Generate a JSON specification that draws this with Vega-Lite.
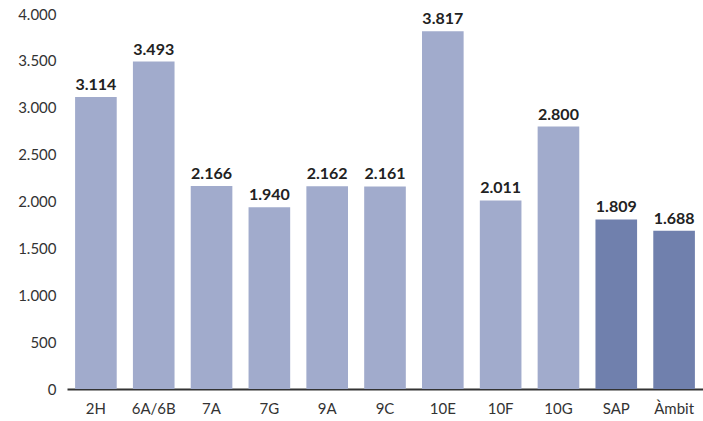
{
  "$schema": "https://vega.github.io/schema/vega-lite/v6.json",
  "width": 636,
  "height": 375,
  "autosize": {"type": "none"},
  "padding": {"left": 67, "top": 14, "right": 0, "bottom": 32},
  "config": {
    "locale": {"number": {"decimal": ",", "thousands": ".", "grouping": [3], "currency": ["", " €"]}},
    "view": {"stroke": null},
    "font": "Lato"
  },
  "data": {
    "values": [
      {"cat": "2H", "valor": 3114, "grup": "a"},
      {"cat": "6A/6B", "valor": 3493, "grup": "a"},
      {"cat": "7A", "valor": 2166, "grup": "a"},
      {"cat": "7G", "valor": 1940, "grup": "a"},
      {"cat": "9A", "valor": 2162, "grup": "a"},
      {"cat": "9C", "valor": 2161, "grup": "a"},
      {"cat": "10E", "valor": 3817, "grup": "a"},
      {"cat": "10F", "valor": 2011, "grup": "a"},
      {"cat": "10G", "valor": 2800, "grup": "a"},
      {"cat": "SAP", "valor": 1809, "grup": "b"},
      {"cat": "Àmbit", "valor": 1688, "grup": "b"}
    ]
  },
  "encoding": {
    "x": {
      "field": "cat",
      "type": "nominal",
      "sort": null,
      "scale": {"paddingInner": 0.28, "paddingOuter": 0.14},
      "axis": {
        "title": null,
        "labelAngle": 0,
        "labelFontSize": 15,
        "labelColor": "#333333",
        "labelPadding": 12,
        "ticks": false,
        "domainColor": "#333333",
        "domainWidth": 2
      }
    },
    "y": {
      "field": "valor",
      "type": "quantitative",
      "scale": {"domain": [0, 4000], "nice": false},
      "axis": {
        "title": null,
        "values": [0, 500, 1000, 1500, 2000, 2500, 3000, 3500, 4000],
        "format": ",d",
        "grid": false,
        "domain": false,
        "ticks": false,
        "labelPadding": 11,
        "labelFontSize": 15,
        "labelColor": "#333333"
      }
    }
  },
  "layer": [
    {
      "mark": {"type": "bar"},
      "encoding": {
        "color": {
          "field": "grup",
          "type": "nominal",
          "scale": {"domain": ["a", "b"], "range": ["#a1abcc", "#7080ad"]},
          "legend": null
        }
      }
    },
    {
      "mark": {"type": "text", "dy": -12, "fontSize": 16, "fontWeight": "bold", "color": "#222222"},
      "encoding": {
        "text": {"field": "valor", "type": "quantitative", "format": ",d"}
      }
    }
  ]
}
